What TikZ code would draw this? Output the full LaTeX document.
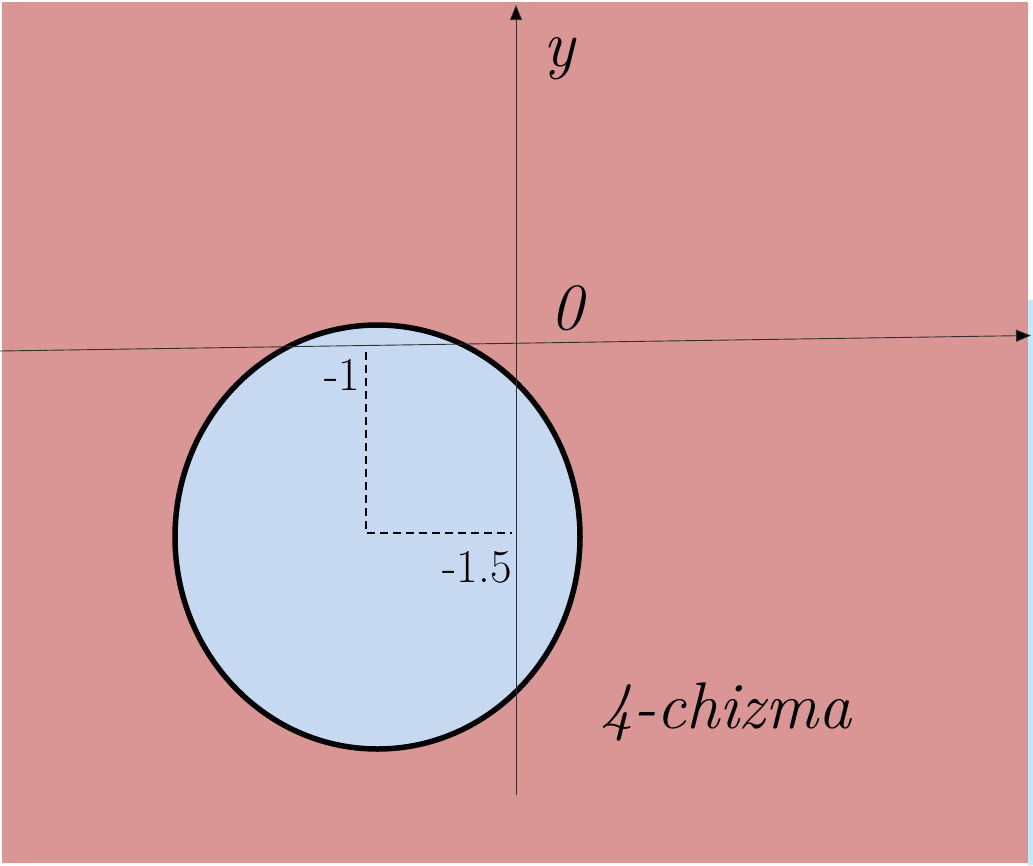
\documentclass[tikz,border=0pt]{standalone}
\usetikzlibrary{arrows.meta}
\definecolor{bgpink}{HTML}{DA9694}
\definecolor{discblue}{HTML}{C6D9F1}
\definecolor{axisgray}{HTML}{303030}
\tikzset{
  axis/.style={draw=axisgray, line width=0.9pt, -{Triangle[length=15pt,width=12pt,fill=black]}},
  guide/.style={draw=black, line width=1.5pt, dash pattern=on 8pt off 5pt},
  bigit/.style={font=\fontsize{66}{70}\selectfont\itshape, inner sep=0pt},
  tick/.style={font=\fontsize{47}{50}\selectfont, inner sep=0pt}
}
\begin{document}
\begin{tikzpicture}[x=1pt,y=-1pt]
\useasboundingbox (0,0) rectangle (1033,865);
\fill[white] (0,0) rectangle (1033,865);
\fill[bgpink] (2,2) rectangle (1028,863);
\fill[cyan!25] (1028,300) rectangle (1033,865);
% disc
\draw[fill=discblue, line width=5.5pt] (377.5,537) ellipse [x radius=202.5, y radius=212];
% axes
\coordinate (ybot) at (516,795);
\coordinate (ytop) at (516,5);
\coordinate (xl) at (0,351);
\coordinate (xr) at (1031,335.5);
\draw[axis] (ybot) -- (ytop);
\draw[axis] (xl) -- (xr);
% guides
\coordinate (c) at (366,533);
\coordinate (vtop) at (366,352);
\coordinate (hend) at (512,533);
\draw[guide] (vtop) -- (c) -- (hend);
% labels
\node[bigit, anchor=base west] (ylab) at (543,66) {y};
\node[bigit, anchor=base west] (zero) at (550,329) {0};
\node[bigit, anchor=base west] (cap) at (600,728) {4-chizma};
\node[tick, anchor=base east] (m1) at (360,390) {-1};
\node[tick, anchor=base east] (m15) at (512,582) {-1.5};
\end{tikzpicture}
\end{document}
